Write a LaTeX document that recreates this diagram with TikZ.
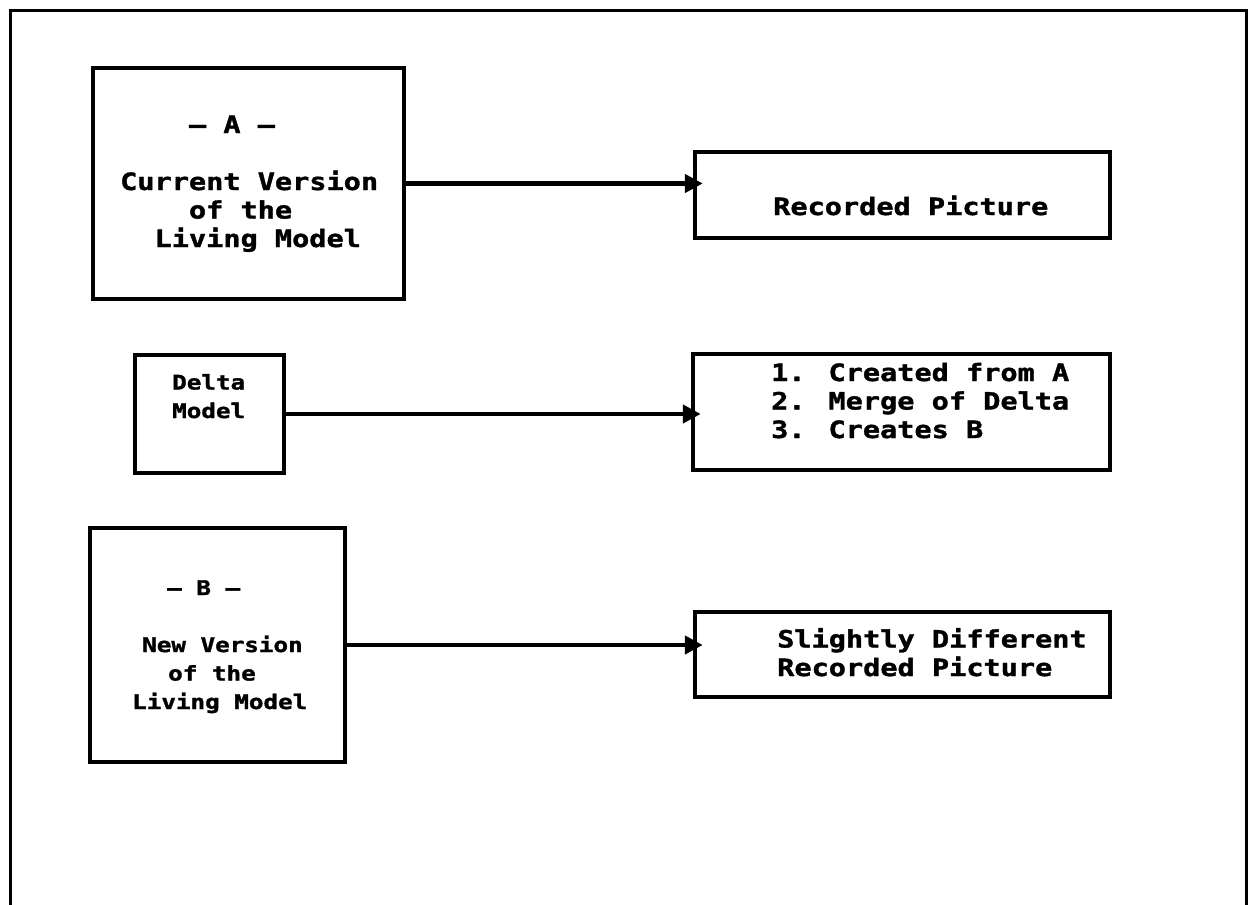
\documentclass[tikz,border=0pt]{standalone}
\usepackage{fontspec}
\newfontfamily\plotfont{DejaVu Sans Mono}[FakeStretch=1.2, FakeBold=1.5]
\usetikzlibrary{arrows.meta}
\newcommand{\bigtype}{\plotfont\bfseries\fontsize{23.8pt}{28.5pt}\selectfont}
\newcommand{\smalltype}{\plotfont\bfseries\fontsize{20.2pt}{28.5pt}\selectfont}
\newcommand{\pad}[1]{\hspace*{#1pt}}
\tikzset{
  box/.style={draw, line width=4.5pt, inner sep=0pt},
  txt/.style={anchor=base west, inner sep=0pt, align=left, font=\bigtype},
  flow/.style={-{Triangle[length=18pt,width=18pt]}, line width=4.5pt, shorten >=-10pt}
}
\begin{document}
\begin{tikzpicture}[x=1pt,y=-1pt]
\useasboundingbox[fill=white] (0,0) rectangle (1248,905);
\draw[line width=3pt] (10,905) -- (10,10) -- (1246,10) -- (1246,905);
% models on the left
\node[box, minimum width=311pt, minimum height=231pt] (verA) at (248.5,183.5) {};
\node[box, minimum width=149pt, minimum height=118pt] (delta) at (209.5,414) {};
\node[box, minimum width=255pt, minimum height=234pt] (verB) at (217.5,645) {};
% pictures on the right
\node[box, minimum width=415pt, minimum height=86pt] (recA) at (902.5,195) {};
\node[box, minimum width=417pt, minimum height=116pt] (merge) at (901.5,412) {};
\node[box, minimum width=415pt, minimum height=85pt] (recB) at (902.5,654.5) {};
% texts (placed at the baseline of their last line)
\node[txt] (verAtxt) at (120,247) {\pad{68.8}\textendash\ A\ \textendash\\[28.5pt]
  Current Version\\ \pad{68.8}of the\\ \pad{34.4}Living Model};
\node[txt, font=\smalltype] (deltatxt) at (172,418) {Delta\\Model};
\node[txt, font=\smalltype] (verBtxt) at (132,709) {\pad{35}\textendash\ B\ \textendash\\[28.5pt]
  \pad{10}New Version\\ \pad{36}of the\\ Living Model};
\node[txt] (recAtxt) at (773,215) {Recorded Picture};
\node[txt] (mergetxt) at (771,438) {1. Created from A\\ 2. Merge of Delta\\ 3. Creates B};
\node[txt] (recBtxt) at (777,676) {Slightly Different\\ Recorded Picture};
% arrows
\draw[flow] (verA.east) -- (verA.east -| recA.west);
\draw[flow] (delta.east) -- (delta.east -| merge.west);
\draw[flow] (verB.east) -- (verB.east -| recB.west);
\end{tikzpicture}
\end{document}
